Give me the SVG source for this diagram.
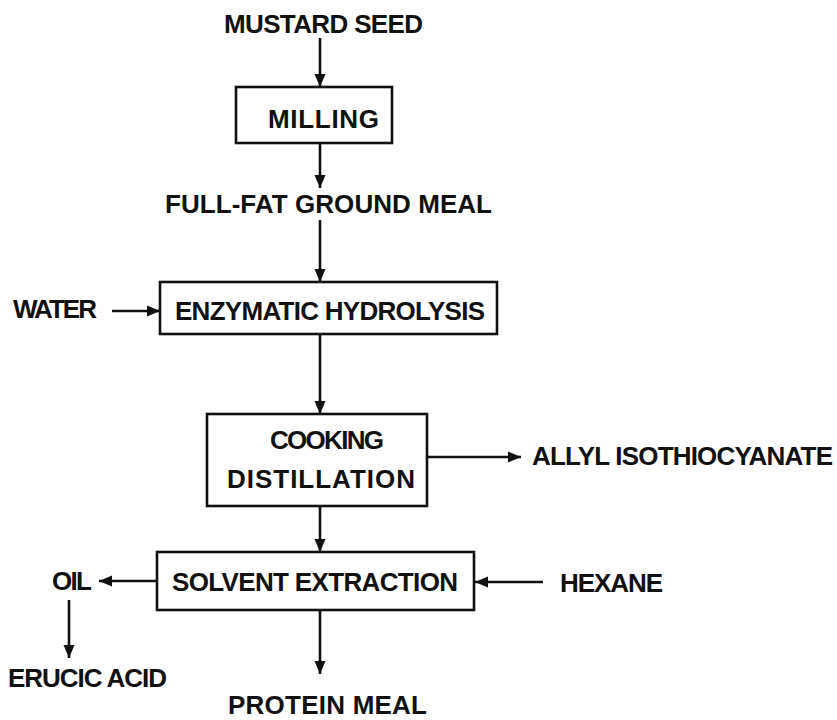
<svg xmlns="http://www.w3.org/2000/svg" width="837" height="720" viewBox="0 0 837 720">
  <style>
    .box { fill: none; stroke: #111; stroke-width: 2.6; }
    .lbl { font-family: "Liberation Sans", Arial, sans-serif; font-weight: bold; font-size: 26px; fill: #111; }
    .flow { stroke: #111; stroke-width: 2.6; fill: none; marker-end: url(#head); }
  </style>
  <defs>
    <marker id="head" markerUnits="userSpaceOnUse" markerWidth="14" markerHeight="12" refX="13" refY="6" orient="auto">
      <path d="M0,0.5 L13,6 L0,11.5 z" fill="#111"/>
    </marker>
  </defs>
  <rect width="837" height="720" fill="#fff"/>

  <!-- connectors -->
  <g id="connectors">
    <line class="flow" x1="320" y1="38" x2="320" y2="87"/>
    <line class="flow" x1="320" y1="144" x2="320" y2="188"/>
    <line class="flow" x1="320" y1="220" x2="320" y2="282"/>
    <line class="flow" x1="112" y1="311" x2="160" y2="311"/>
    <line class="flow" x1="320" y1="335" x2="320" y2="414"/>
    <line class="flow" x1="427" y1="457" x2="521" y2="457"/>
    <line class="flow" x1="320" y1="506" x2="320" y2="552"/>
    <line class="flow" x1="157" y1="581" x2="99" y2="581"/>
    <line class="flow" x1="543" y1="582" x2="475" y2="582"/>
    <line class="flow" x1="69" y1="600" x2="69" y2="658"/>
    <line class="flow" x1="320" y1="610" x2="320" y2="674"/>
  </g>

  <!-- stream labels -->
  <g id="mustard-seed"><text class="lbl" x="224" y="33" textLength="199" lengthAdjust="spacing">MUSTARD SEED</text></g>
  <g id="full-fat-meal"><text class="lbl" x="165" y="213" textLength="327" lengthAdjust="spacing">FULL-FAT GROUND MEAL</text></g>
  <g id="water"><text class="lbl" x="13" y="318" textLength="84" lengthAdjust="spacing">WATER</text></g>
  <g id="allyl"><text class="lbl" x="532" y="465" textLength="301" lengthAdjust="spacing">ALLYL ISOTHIOCYANATE</text></g>
  <g id="oil"><text class="lbl" x="52" y="590" textLength="40" lengthAdjust="spacing">OIL</text></g>
  <g id="hexane"><text class="lbl" x="560" y="592" textLength="103" lengthAdjust="spacing">HEXANE</text></g>
  <g id="erucic-acid"><text class="lbl" x="8" y="687" textLength="159" lengthAdjust="spacing">ERUCIC ACID</text></g>
  <g id="protein-meal"><text class="lbl" x="228" y="714" textLength="199" lengthAdjust="spacing">PROTEIN MEAL</text></g>

  <!-- process steps -->
  <g id="milling">
    <rect class="box" x="236" y="87" width="156" height="56"/>
    <text class="lbl" x="268" y="128" textLength="111" lengthAdjust="spacing">MILLING</text>
  </g>
  <g id="hydrolysis">
    <rect class="box" x="160" y="282" width="337" height="52"/>
    <text class="lbl" x="175" y="320" textLength="310" lengthAdjust="spacing">ENZYMATIC HYDROLYSIS</text>
  </g>
  <g id="cooking">
    <rect class="box" x="207" y="414" width="220" height="92"/>
    <text class="lbl" x="270" y="449" textLength="114" lengthAdjust="spacing">COOKING</text>
    <text class="lbl" x="227" y="488" textLength="188" lengthAdjust="spacing">DISTILLATION</text>
  </g>
  <g id="extraction">
    <rect class="box" x="157" y="552" width="317" height="58"/>
    <text class="lbl" x="172" y="591" textLength="286" lengthAdjust="spacing">SOLVENT EXTRACTION</text>
  </g>
</svg>
